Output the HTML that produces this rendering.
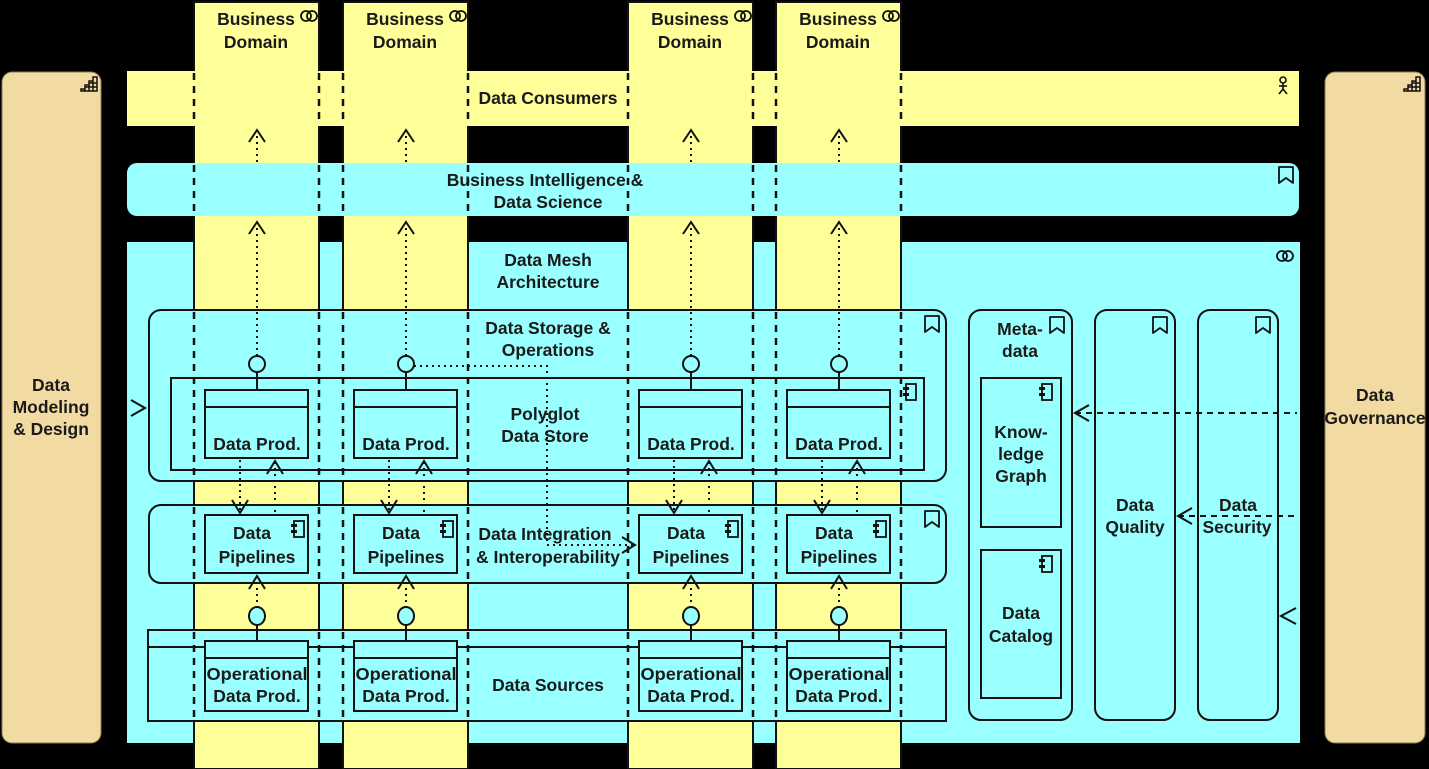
<!DOCTYPE html>
<html><head><meta charset="utf-8"><style>
html,body{margin:0;padding:0;background:#000;}
svg{display:block}
text{font-family:"Liberation Sans",sans-serif;font-weight:bold;font-size:17.5px;fill:#1a1a1a;text-anchor:middle}
</style></head><body>
<svg width="1429" height="769" viewBox="0 0 1429 769" xmlns="http://www.w3.org/2000/svg">
<defs>
<g id="bm"><path d="M0,0 h14 v16 l-7,-5 l-7,5 z" fill="none" stroke="#111" stroke-width="1.8" stroke-linejoin="round"/></g>
<g id="comp"><rect x="3" y="0" width="10" height="16" fill="none" stroke="#111" stroke-width="1.8"/><rect x="0" y="3" width="6" height="3" fill="#111"/><rect x="0" y="9" width="6" height="3" fill="#111"/></g>
<g id="coll"><circle cx="0" cy="0" r="5" fill="none" stroke="#111" stroke-width="1.8"/><circle cx="6" cy="0" r="5" fill="none" stroke="#111" stroke-width="1.8"/></g>
<g id="stair"><path d="M0,14 h16 v-14 h-4 v4 h-4 v4 h-4 v4 h-4 z M4,10 v4 M8,6 v8 M12,2 v12 M4,10 h12 M8,6 h8" fill="none" stroke="#111" stroke-width="1.5"/></g>
<g id="colbg">
<rect x="194" y="2" width="125" height="767" fill="#ffff99" stroke="#111" stroke-width="2"/>
<text x="256" y="25">Business</text><text x="256" y="48">Domain</text>
<use href="#coll" x="306" y="16"/>
</g>
<g id="colfg">
<g stroke="#111" stroke-width="2.5" stroke-dasharray="7,6" fill="none">
<line x1="194" y1="73" x2="194" y2="124"/><line x1="319" y1="73" x2="319" y2="124"/>
<line x1="194" y1="165" x2="194" y2="214"/><line x1="319" y1="165" x2="319" y2="214"/>
<line x1="194" y1="312" x2="194" y2="479"/><line x1="319" y1="312" x2="319" y2="479"/>
<line x1="194" y1="507" x2="194" y2="581"/><line x1="319" y1="507" x2="319" y2="581"/>
<line x1="194" y1="632" x2="194" y2="719"/><line x1="319" y1="632" x2="319" y2="719"/>
</g>
<g stroke="#111" stroke-width="2" stroke-dasharray="2,4" fill="none">
<line x1="257" y1="162" x2="257" y2="130"/>
<line x1="257" y1="356" x2="257" y2="222"/>
<line x1="240" y1="460" x2="240" y2="512"/>
<line x1="275" y1="512" x2="275" y2="462"/>
<line x1="257" y1="608" x2="257" y2="577"/>
</g>
<g stroke="#111" stroke-width="2" fill="none">
<polyline points="249,142 257,130 265,142"/>
<polyline points="249,234 257,222 265,234"/>
<polyline points="232,500 240,513 248,500"/>
<polyline points="267,474 275,461 283,474"/>
<polyline points="249,589 257,576 265,589"/>
<circle cx="257" cy="364" r="8" fill="#99ffff"/>
<line x1="257" y1="372" x2="257" y2="390"/>
<rect x="205" y="390" width="103" height="68" fill="#99ffff"/>
<line x1="205" y1="407" x2="308" y2="407"/>
<rect x="205" y="515" width="103" height="58" fill="#99ffff"/>
<ellipse cx="257" cy="616" rx="8" ry="9" fill="#99ffff"/>
<line x1="257" y1="625" x2="257" y2="641"/>
<rect x="205" y="641" width="103" height="70" fill="#99ffff"/>
<line x1="205" y1="658" x2="308" y2="658"/>
</g>
<text x="257" y="450">Data Prod.</text>
<text x="252" y="539">Data</text><text x="257" y="563">Pipelines</text>
<use href="#comp" x="291" y="521"/>
<text x="257" y="680" textLength="101" lengthAdjust="spacingAndGlyphs">Operational</text><text x="257" y="702">Data Prod.</text>
</g>
</defs>

<rect x="2" y="72" width="99" height="671" rx="10" fill="#f2dba3" stroke="#8a7a50" stroke-width="1"/>
<use href="#stair" x="81" y="77"/>
<text x="51" y="391">Data</text><text x="51" y="413">Modeling</text><text x="51" y="435">&amp; Design</text>
<rect x="1325" y="72" width="100" height="671" rx="10" fill="#f2dba3" stroke="#8a7a50" stroke-width="1"/>
<use href="#stair" x="1404" y="77"/>
<text x="1375" y="401">Data</text><text x="1375" y="424">Governance</text>

<rect x="127" y="242" width="1173" height="501" fill="#99ffff"/>

<use href="#colbg"/>
<use href="#colbg" x="149"/>
<use href="#colbg" x="434"/>
<use href="#colbg" x="582"/>

<rect x="127" y="71" width="1172" height="55" fill="#ffff99"/>
<text x="548" y="104">Data Consumers</text>
<g transform="translate(1283,77)" stroke="#111" stroke-width="1.6" fill="none"><circle cx="0" cy="3" r="3"/><line x1="0" y1="6" x2="0" y2="12"/><line x1="-4" y1="9" x2="4" y2="9"/><polyline points="-4,17 0,12 4,17"/></g>
<rect x="127" y="163" width="1172" height="53" rx="10" fill="#99ffff"/>
<use href="#bm" x="1279" y="167"/>
<text x="545" y="186">Business Intelligence &amp;</text><text x="548" y="208">Data Science</text>

<text x="548" y="266">Data Mesh</text><text x="548" y="288">Architecture</text>
<use href="#coll" x="1282" y="256"/>

<rect x="149" y="310" width="797" height="171" rx="12" fill="#99ffff" stroke="#111" stroke-width="2"/>
<use href="#bm" x="925" y="316"/>
<text x="548" y="334">Data Storage &amp;</text><text x="548" y="356">Operations</text>
<rect x="171" y="378" width="753" height="92" fill="#99ffff" stroke="#111" stroke-width="2"/>
<use href="#comp" x="903" y="384"/>
<text x="545" y="420">Polyglot</text><text x="545" y="442">Data Store</text>

<rect x="149" y="505" width="797" height="78" rx="12" fill="#99ffff" stroke="#111" stroke-width="2"/>
<use href="#bm" x="925" y="511"/>
<text x="545" y="540">Data Integration</text><text x="548" y="563">&amp; Interoperability</text>

<rect x="148" y="630" width="798" height="91" fill="#99ffff" stroke="#111" stroke-width="2"/>
<line x1="148" y1="647" x2="946" y2="647" stroke="#111" stroke-width="2"/>
<text x="548" y="691">Data Sources</text>

<use href="#colfg"/>
<use href="#colfg" x="149"/>
<use href="#colfg" x="434"/>
<use href="#colfg" x="582"/>

<polyline points="414,366 547,366 547,545 634,545" fill="none" stroke="#111" stroke-width="2" stroke-dasharray="2,4"/>
<polyline points="622,537 635,545 622,553" fill="none" stroke="#111" stroke-width="2"/>

<polyline points="131,400 145,408 131,416" fill="none" stroke="#111" stroke-width="2"/>

<rect x="969" y="310" width="103" height="410" rx="12" fill="#99ffff" stroke="#111" stroke-width="2"/>
<use href="#bm" x="1050" y="317"/>
<text x="1020" y="335">Meta-</text><text x="1020" y="357">data</text>
<rect x="981" y="378" width="80" height="149" fill="#99ffff" stroke="#111" stroke-width="2"/>
<use href="#comp" x="1039" y="384"/>
<text x="1021" y="438">Know-</text><text x="1021" y="460">ledge</text><text x="1021" y="482">Graph</text>
<rect x="981" y="550" width="80" height="148" fill="#99ffff" stroke="#111" stroke-width="2"/>
<use href="#comp" x="1039" y="556"/>
<text x="1021" y="619">Data</text><text x="1021" y="642">Catalog</text>

<rect x="1095" y="310" width="80" height="410" rx="12" fill="#99ffff" stroke="#111" stroke-width="2"/>
<use href="#bm" x="1153" y="317"/>
<text x="1135" y="511">Data</text><text x="1135" y="533">Quality</text>
<rect x="1198" y="310" width="80" height="410" rx="12" fill="#99ffff" stroke="#111" stroke-width="2"/>
<use href="#bm" x="1256" y="317"/>
<text x="1238" y="511">Data</text><text x="1237" y="533">Security</text>

<line x1="1075" y1="413" x2="1297" y2="413" stroke="#111" stroke-width="2" stroke-dasharray="6,5"/>
<polyline points="1089,405 1075,413 1089,421" fill="none" stroke="#111" stroke-width="2"/>
<line x1="1178" y1="516" x2="1297" y2="516" stroke="#111" stroke-width="2" stroke-dasharray="6,5"/>
<polyline points="1192,508 1178,516 1192,524" fill="none" stroke="#111" stroke-width="2"/>
<polyline points="1296,608 1281,616 1296,624" fill="none" stroke="#111" stroke-width="2"/>
</svg>
</body></html>
